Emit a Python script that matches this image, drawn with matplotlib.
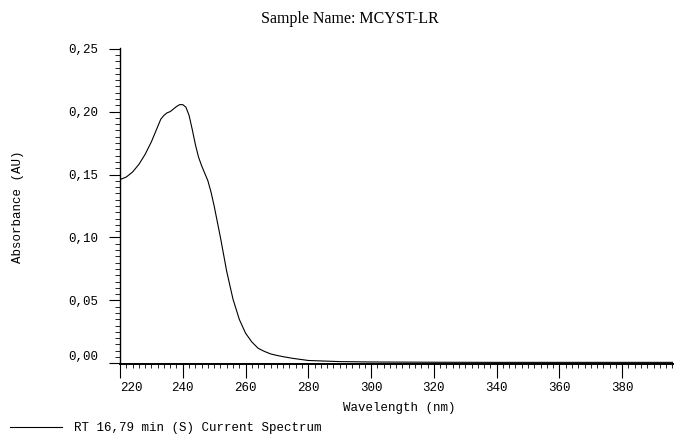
import matplotlib
matplotlib.use("Agg")
import matplotlib.pyplot as plt
from matplotlib.ticker import MultipleLocator, FixedLocator

wavelength = [220, 222, 224, 226, 228, 230, 231, 232, 233, 234, 235, 236, 237, 238,
              239, 240, 241, 242, 243, 244, 245, 246, 247, 248, 249, 250, 252, 254,
              256, 258, 260, 262, 264, 266, 268, 270, 272, 275, 280, 290, 300, 320,
              340, 360, 380, 396]
absorbance = [0.146, 0.148, 0.152, 0.158, 0.166, 0.176, 0.182, 0.188, 0.194, 0.197,
              0.199, 0.200, 0.202, 0.204, 0.2055, 0.2055, 0.2035, 0.197, 0.186, 0.174,
              0.164, 0.157, 0.151, 0.145, 0.136, 0.125, 0.100, 0.073, 0.051, 0.035,
              0.024, 0.017, 0.012, 0.0095, 0.0075, 0.0063, 0.0053, 0.004, 0.0023,
              0.0014, 0.0011, 0.0009, 0.0008, 0.0008, 0.0008, 0.0008]

x_ticks = [220, 240, 260, 280, 300, 320, 340, 360, 380]
y_ticks = [0.00, 0.05, 0.10, 0.15, 0.20, 0.25]
y_tick_labels = ["0,00", "0,05", "0,10", "0,15", "0,20", "0,25"]

title = "Sample Name: MCYST-LR"
xlabel = "Wavelength (nm)"
ylabel = "Absorbance (AU)"
legend_label = "RT 16,79 min (S) Current Spectrum"

mono = "Liberation Mono"
serif = "Liberation Serif"

fig = plt.figure(figsize=(6.74, 4.36), dpi=100)
ax = fig.add_axes([120 / 674, 1 - 364 / 436, 1 - 120 / 674, (364 - 48) / 436])

line, = ax.plot(wavelength, absorbance, color="black", lw=0.8)

ax.set_xlim(220, 396.5)
ax.set_ylim(-0.0005, 0.2505)

for s in ["top", "right"]:
    ax.spines[s].set_visible(False)
ax.spines["left"].set_linewidth(1.0)
ax.spines["bottom"].set_linewidth(1.4)

ax.xaxis.set_major_locator(FixedLocator(x_ticks))
ax.xaxis.set_minor_locator(MultipleLocator(2))
ax.yaxis.set_major_locator(FixedLocator(y_ticks))
ax.yaxis.set_minor_locator(MultipleLocator(0.005))

ax.set_xticklabels([str(v) for v in x_ticks], fontfamily=mono, fontsize=9)
ax.set_yticklabels(y_tick_labels, fontfamily=mono, fontsize=9)
ax.get_xticklabels()[0].set_horizontalalignment("left")
ax.get_yticklabels()[0].set_verticalalignment("bottom")

ax.tick_params(axis="x", which="major", direction="out", length=10, width=0.8, pad=3)
ax.tick_params(axis="x", which="minor", direction="out", length=3, width=0.6)
ax.tick_params(axis="y", which="major", direction="out", length=8, width=0.8, pad=8)
ax.tick_params(axis="y", which="minor", direction="out", length=3.5, width=0.6)

fig.text(399 / 674, 1 - 408 / 436, xlabel, fontfamily=mono, fontsize=9,
         ha="center", va="center")
fig.text(18 / 674, 1 - 207 / 436, ylabel, fontfamily=mono, fontsize=9,
         rotation=90, ha="center", va="center")
fig.text(350 / 674, 1 - 19 / 436, title, fontfamily=serif, fontsize=11.5,
         ha="center", va="center")

fig.legend([line], [legend_label], loc="center left",
           bbox_to_anchor=(6 / 674, 1 - 428 / 436), frameon=False,
           prop={"family": mono, "size": 9}, handlelength=4.2, handletextpad=0.95,
           borderpad=0, borderaxespad=0.3)

fig.savefig("out.png", dpi=100)
